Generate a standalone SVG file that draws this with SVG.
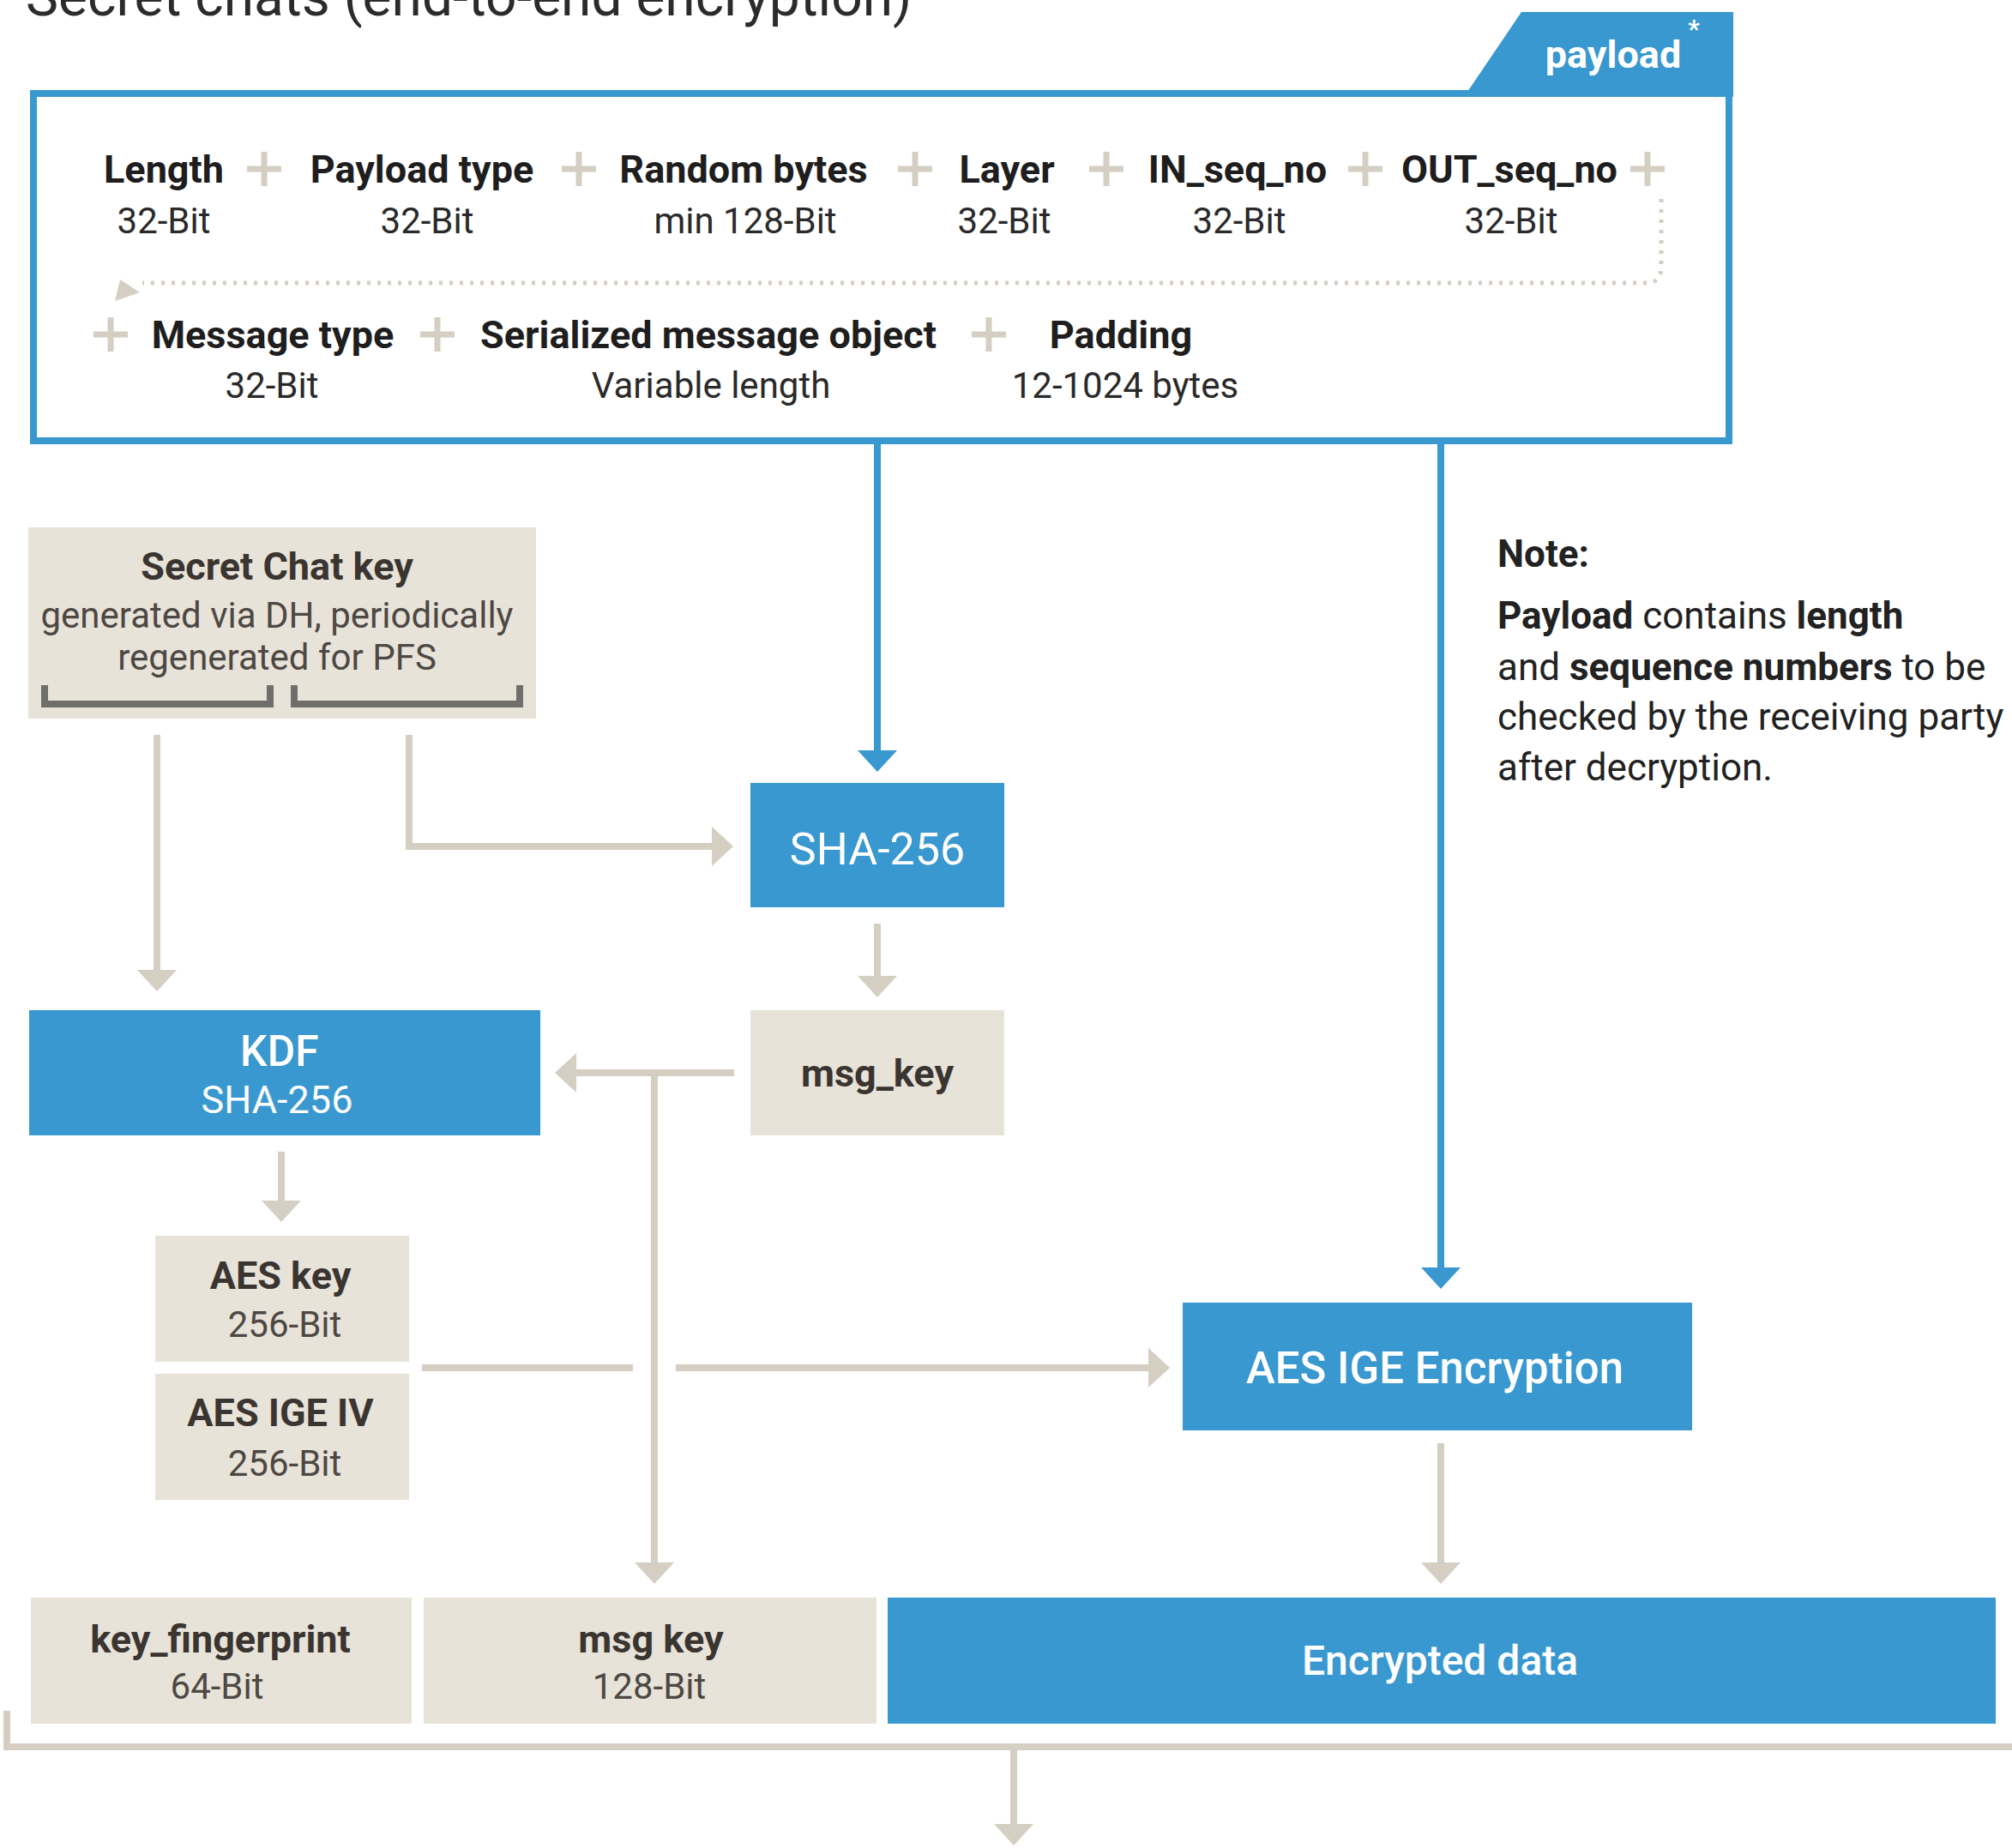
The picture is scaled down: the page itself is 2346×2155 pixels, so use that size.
<svg xmlns="http://www.w3.org/2000/svg" width="2346" height="2155" viewBox="0 0 2346 2155">
  <style>
    text { font-family: Roboto, "Liberation Sans", sans-serif; }
    .title { font-size: 64px; fill: #2b2b2b; }
    .fld { font-size: 45px; font-weight: 700; fill: #1e1e1e; text-anchor: middle; }
    .fsub { font-size: 42px; fill: #2a2a2a; text-anchor: middle; }
    .bk { font-size: 45px; font-weight: 700; fill: #3a3530; text-anchor: middle; }
    .bs { font-size: 42px; fill: #4d4843; text-anchor: middle; }
    .wt { fill: #ffffff; text-anchor: middle; }
    .note { font-size: 44px; fill: #222222; }
    .b { font-weight: 700; }
    .blue { fill: #3898cf; }
    .beige { fill: #e8e3d9; }
    .plus { fill: #d4cfc2; }
    .lnB { stroke: #3898cf; stroke-width: 8; fill: none; }
    .lnG { stroke: #d4cfc2; stroke-width: 8; fill: none; }
  </style>
  <defs>
    <marker id="ahG" viewBox="0 0 25 46" refX="1" refY="23" markerWidth="25" markerHeight="46" markerUnits="userSpaceOnUse" orient="auto">
      <path d="M0,0 L25,23 L0,46 Z" fill="#d4cfc2"/>
    </marker>
    <marker id="ahB" viewBox="0 0 25 46" refX="1" refY="23" markerWidth="25" markerHeight="46" markerUnits="userSpaceOnUse" orient="auto">
      <path d="M0,0 L25,23 L0,46 Z" fill="#3898cf"/>
    </marker>
    <g id="pl">
      <rect x="-20" y="-3.5" width="40" height="7"/>
      <rect x="-3.5" y="-20" width="7" height="40"/>
    </g>
  </defs>

  <rect width="2346" height="2155" fill="#ffffff"/>

  <text class="title" x="30" y="18">Secret chats (end-to-end encryption)</text>

  <!-- payload structure -->
  <g id="payload">
    <polygon class="blue" points="1707,113 1774,14 2021,14 2021,113"/>
    <rect x="39" y="109" width="1977" height="405" fill="#ffffff" stroke="#3898cf" stroke-width="8"/>
    <text class="wt b" x="1881" y="79" font-size="45">payload</text>
    <text class="wt b" x="1975" y="44" font-size="30">*</text>

    <!-- first row of fields -->
    <text class="fld" x="191" y="213">Length</text>
    <text class="fld" x="492" y="213">Payload type</text>
    <text class="fld" x="867" y="213">Random bytes</text>
    <text class="fld" x="1174" y="213">Layer</text>
    <text class="fld" x="1443" y="213">IN_seq_no</text>
    <text class="fld" x="1760" y="213">OUT_seq_no</text>
    <text class="fsub" x="191" y="272">32-Bit</text>
    <text class="fsub" x="498" y="272">32-Bit</text>
    <text class="fsub" x="869" y="272">min 128-Bit</text>
    <text class="fsub" x="1171" y="272">32-Bit</text>
    <text class="fsub" x="1445" y="272">32-Bit</text>
    <text class="fsub" x="1762" y="272">32-Bit</text>
    <g class="plus">
      <use href="#pl" x="308" y="197"/>
      <use href="#pl" x="675" y="197"/>
      <use href="#pl" x="1067" y="197"/>
      <use href="#pl" x="1290" y="197"/>
      <use href="#pl" x="1592" y="197"/>
      <use href="#pl" x="1921" y="197"/>
      <use href="#pl" x="129" y="390"/>
      <use href="#pl" x="510" y="390"/>
      <use href="#pl" x="1153" y="390"/>
    </g>

    <!-- wrap-around to the second row -->
    <path d="M1937,232 V312 Q1937,330 1919,330 H166" fill="none" stroke="#d4cfc2" stroke-width="5" stroke-dasharray="4 8"/>
    <polygon points="140,326 163,341 134,351" fill="#d4cfc2"/>

    <!-- second row of fields -->
    <text class="fld" x="318" y="406">Message type</text>
    <text class="fld" x="826" y="406">Serialized message object</text>
    <text class="fld" x="1307" y="406">Padding</text>
    <text class="fsub" x="317" y="464">32-Bit</text>
    <text class="fsub" x="829" y="464">Variable length</text>
    <text class="fsub" x="1312" y="464">12-1024 bytes</text>
  </g>

  <!-- connectors -->
  <g id="connectors">
    <path class="lnB" d="M1023,518 V876" marker-end="url(#ahB)"/>
    <path class="lnB" d="M1680,518 V1479" marker-end="url(#ahB)"/>
    <path class="lnG" d="M183,857 V1132" marker-end="url(#ahG)"/>
    <path class="lnG" d="M477,857 V987 H831" marker-end="url(#ahG)"/>
    <path class="lnG" d="M1023,1077 V1139" marker-end="url(#ahG)"/>
    <path class="lnG" d="M856,1251 H671" marker-end="url(#ahG)"/>
    <path class="lnG" d="M763,1251 V1823" marker-end="url(#ahG)"/>
    <path class="lnG" d="M328,1343 V1401" marker-end="url(#ahG)"/>
    <path class="lnG" d="M492,1595 H738"/>
    <path class="lnG" d="M788,1595 H1340" marker-end="url(#ahG)"/>
    <path class="lnG" d="M1680,1683 V1823" marker-end="url(#ahG)"/>
    <path class="lnG" d="M8,1995 V2037 H2346"/>
    <path class="lnG" d="M1182,2037 V2128" marker-end="url(#ahG)"/>
  </g>

  <g id="secret-chat-key">
    <rect class="beige" x="33" y="615" width="592" height="223"/>
    <text class="bk" x="323" y="676">Secret Chat key</text>
    <text class="bs" x="323" y="732" font-size="40">generated via DH, periodically</text>
    <text class="bs" x="323" y="781" font-size="40">regenerated for PFS</text>
    <path d="M52,799 V821 H315 V799 M343,799 V821 H606 V799" fill="none" stroke="#706e6b" stroke-width="8"/>
  </g>

  <g id="sha256">
    <rect class="blue" x="875" y="913" width="296" height="145"/>
    <text class="wt" x="1023" y="1008" font-size="52">SHA-256</text>
  </g>

  <g id="msg-key">
    <rect class="beige" x="875" y="1178" width="296" height="146"/>
    <text class="bk" x="1023" y="1267">msg_key</text>
  </g>

  <g id="kdf">
    <rect class="blue" x="34" y="1178" width="596" height="146"/>
    <text class="wt" x="326" y="1243" font-size="50" font-weight="500">KDF</text>
    <text class="wt" x="323" y="1298" font-size="45">SHA-256</text>
  </g>

  <g id="aes-key">
    <rect class="beige" x="181" y="1441" width="296" height="147"/>
    <text class="bk" x="327" y="1503">AES key</text>
    <text class="bs" x="332" y="1559">256-Bit</text>
  </g>

  <g id="aes-iv">
    <rect class="beige" x="181" y="1602" width="296" height="147"/>
    <text class="bk" x="327" y="1663">AES IGE IV</text>
    <text class="bs" x="332" y="1721">256-Bit</text>
  </g>

  <g id="aes-ige">
    <rect class="blue" x="1379" y="1519" width="594" height="149"/>
    <text class="wt" x="1673" y="1613" font-size="51" font-weight="500">AES IGE Encryption</text>
  </g>

  <g id="note">
    <text class="note b" x="1746" y="661">Note:</text>
    <text class="note" x="1746" y="733"><tspan class="b">Payload</tspan> contains <tspan class="b">length</tspan></text>
    <text class="note" x="1746" y="793">and <tspan class="b">sequence numbers</tspan> to be</text>
    <text class="note" x="1746" y="851">checked by the receiving party</text>
    <text class="note" x="1746" y="910">after decryption.</text>
  </g>

  <g id="key-fingerprint">
    <rect class="beige" x="36" y="1863" width="444" height="147"/>
    <text class="bk" x="257" y="1927">key_fingerprint</text>
    <text class="bs" x="253" y="1981">64-Bit</text>
  </g>

  <g id="msg-key-out">
    <rect class="beige" x="494" y="1863" width="528" height="147"/>
    <text class="bk" x="759" y="1927">msg key</text>
    <text class="bs" x="757" y="1981">128-Bit</text>
  </g>

  <g id="encrypted-data">
    <rect class="blue" x="1035" y="1863" width="1292" height="147"/>
    <text class="wt" x="1679" y="1953" font-size="48" font-weight="500">Encrypted data</text>
  </g>
</svg>
